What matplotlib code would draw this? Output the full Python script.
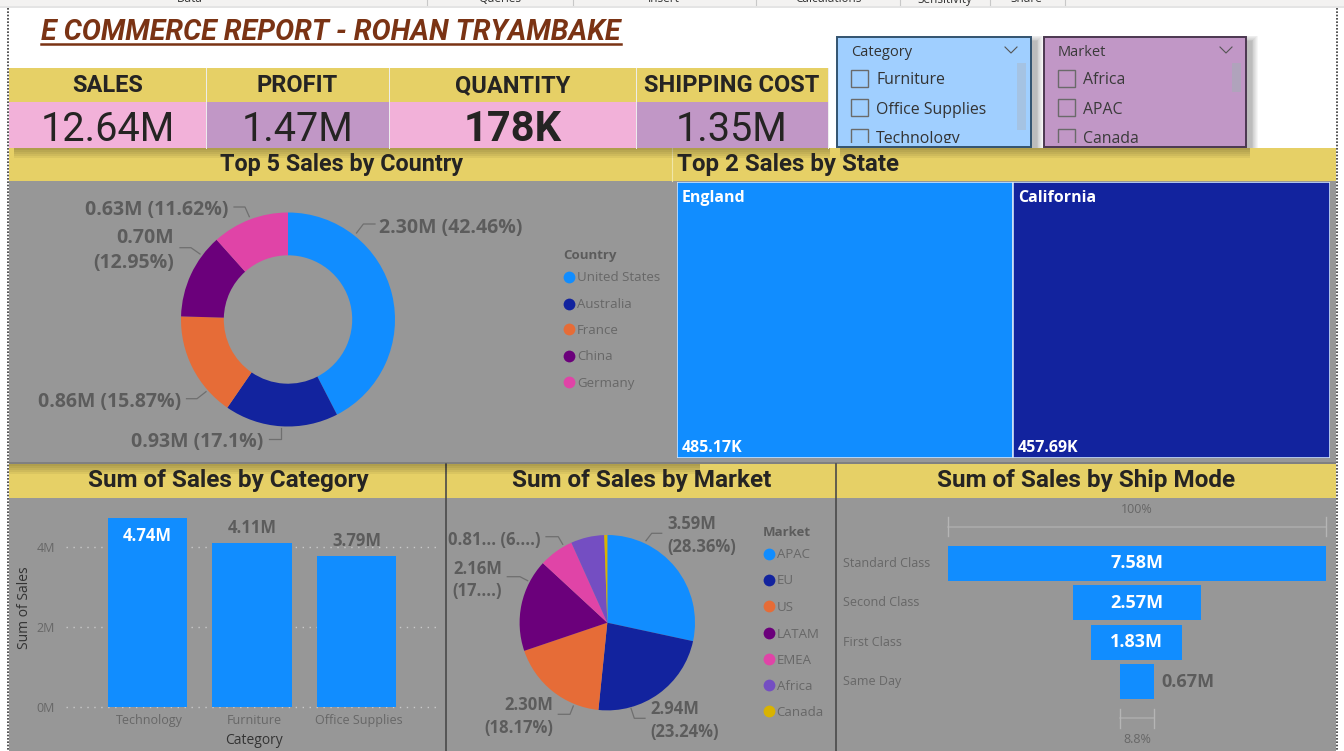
import matplotlib
matplotlib.use("Agg")
import matplotlib.pyplot as plt
from matplotlib.patches import Rectangle
import numpy as np

W, H = 1344, 751

## Data
kpi_names = ["SALES", "PROFIT", "QUANTITY", "SHIPPING COST"]
kpi_values = ["12.64M", "1.47M", "178K", "1.35M"]

country_names = ["United States", "Australia", "France", "China", "Germany"]
country_sales = [2.30, 0.93, 0.86, 0.70, 0.63]
country_labels = ["2.30M (42.46%)", "0.93M (17.1%)", "0.86M (15.87%)", "0.70M\n(12.95%)", "0.63M (11.62%)"]

state_names = ["England", "California"]
state_sales = [485.17, 457.69]
state_labels = ["485.17K", "457.69K"]

category_names = ["Technology", "Furniture", "Office Supplies"]
category_sales = [4.74, 4.11, 3.79]
category_labels = ["4.74M", "4.11M", "3.79M"]

market_names = ["APAC", "EU", "US", "LATAM", "EMEA", "Africa", "Canada"]
market_sales = [3.59, 2.94, 2.30, 2.16, 0.81, 0.78, 0.07]
market_labels = ["3.59M\n(28.36%)", "2.94M\n(23.24%)", "2.30M\n(18.17%)", "2.16M\n(17....)", "0.81... (6....)"]

ship_names = ["Standard Class", "Second Class", "First Class", "Same Day"]
ship_sales = [7.58, 2.57, 1.83, 0.67]
ship_labels = ["7.58M", "2.57M", "1.83M", "0.67M"]
ship_pct_labels = ["100%", "8.8%"]

slicer_category = ["Furniture", "Office Supplies", "Technology"]
slicer_market = ["Africa", "APAC", "Canada"]
ribbon_groups = ["Data", "Queries", "Insert", "Calculations", "Sensitivity", "Share"]

## Colours
BLUE, NAVY, ORANGE, PURPLE, MAGENTA, VIOLET, GOLD = "#118dff", "#12239e", "#e66c37", "#6b007b", "#e044a7", "#744ec2", "#d9b300"
PALETTE = [BLUE, NAVY, ORANGE, PURPLE, MAGENTA, VIOLET, GOLD]
YELLOW, PINK, LILAC, GREY = "#e6d066", "#f2b1d9", "#c197c6", "#979797"
DARK, LABEL, AXIS = "#252423", "#5c5c5c", "#676767"
HEAD = "Roboto"
BODY = "Open Sans"

fig = plt.figure(figsize=(W / 100, H / 100), dpi=100, facecolor="white")


def px_axes(left, top, right, bottom, z=2):
    ax = fig.add_axes([left / W, 1 - bottom / H, (right - left) / W, (bottom - top) / H], zorder=z)
    ax.patch.set_alpha(0)
    return ax


def box(ax, x0, y0, x1, y1, color, **kw):
    r = Rectangle((x0, y0), x1 - x0, y1 - y0, facecolor=color, edgecolor=kw.pop("edge", "none"), **kw)
    ax.add_patch(r)
    return r


def shadow(ax, x0, y0, x1, y1, off=6, steps=8, z=1):
    # soft drop shadow, stacked see-through boxes
    for i in range(steps):
        g = 1.3 * off * (steps - i) / steps
        box(ax, x0 + off - g, y0 + off - g, x1 + off + g, y1 + off + g, "black", alpha=0.035, zorder=z)


# page in pixel coordinates
bg = px_axes(0, 0, W, H, z=0)
bg.set_xlim(0, W)
bg.set_ylim(H, 0)
bg.axis("off")

# ribbon left over at the top of the screenshot
box(bg, 0, 0, W, 6, "#f3f2f1", zorder=1)
box(bg, 0, 6, W, 8, "#e4e4e4", zorder=1)
for name, x in zip(ribbon_groups, [190, 500, 664, 828, 945, 1026]):
    bg.text(x, -1, name, ha="center", va="center", fontsize=8.5, family=BODY, color="#333333", zorder=2)
for x in [427, 573, 756, 900, 990, 1065]:
    bg.plot([x, x], [0, 5], color="#c8c8c8", lw=0.8, zorder=2)

# title
bg.text(41, 32.5, "E COMMERCE REPORT - ROHAN TRYAMBAKE", fontsize=20.6, family=HEAD, weight="bold",
        style="italic", color="#7a3314", ha="left", va="center", zorder=3)
bg.plot([41, 621], [44, 44], color="#7a3314", lw=1.8, zorder=3)

# grey panels and yellow headers
box(bg, 9, 181, 1336, 462, GREY, zorder=2)
box(bg, 9, 498, 1336, H, GREY, zorder=2)
box(bg, 9, 148, 1336, 181, YELLOW, zorder=2)
box(bg, 9, 464, 1336, 498, YELLOW, zorder=2)
box(bg, 9, 462, 1336, 464, "#808080", zorder=2)
for x in [446, 836]:
    bg.plot([x, x], [464, H], color="#4a4a4a", lw=1.2, zorder=3)
bg.plot([672, 672], [148, 181], color="#f0e6a8", lw=0.8, zorder=3)
for i in range(5):
    box(bg, 9, 464, 700, 466 + 2 * i, "black", alpha=0.05, zorder=3)
for i in range(5):
    box(bg, 14, 148, 830, 150 + 2 * i, "black", alpha=0.05, zorder=3)
    box(bg, 840, 148, 1250, 150 + 2 * i, "black", alpha=0.05, zorder=3)

for txt, x, y, size in [("Top 5 Sales by Country", 341, 165, 16.8), ("Sum of Sales by Category", 228, 481, 17.5),
                        ("Sum of Sales by Market", 642, 481, 17.5), ("Sum of Sales by Ship Mode", 1086, 481, 17.5)]:
    bg.text(x, y, txt, fontsize=size, family=HEAD, weight="bold", color=DARK, ha="center", va="center", zorder=4)
bg.text(677, 165, "Top 2 Sales by State", fontsize=17.4, family=HEAD, weight="bold", color=DARK,
        ha="left", va="center", zorder=4)

# KPI cards
edges = [9, 206, 389, 636, 828]
fills = [PINK, LILAC, PINK, LILAC]
for i, (name, val) in enumerate(zip(kpi_names, kpi_values)):
    x0, x1 = edges[i], edges[i + 1]
    box(bg, x0, 68, x1, 102, YELLOW, zorder=2)
    box(bg, x0, 102, x1, 148, fills[i], zorder=2)
    bg.plot([x1, x1], [68, 148], color="#eeeeee", lw=0.7, zorder=3)
    bg.text((x0 + x1) / 2, 85.5, name, fontsize=17, family=HEAD, weight="bold", color=DARK,
            ha="center", va="center", zorder=4)
    bold = name == "QUANTITY"
    bg.text((x0 + x1) / 2, 129.5, val, fontsize=30 if bold else 28.5, family=HEAD, color=DARK, ha="center", va="center",
            weight="bold" if bold else "normal", zorder=4)

# slicers
for x0, x1, fill, edge, title, items, bar_end, txt_col in [
        (837, 1031, "#a0cfff", "#33536f", "Category", slicer_category, 130, "#333333"),
        (1044, 1246, LILAC, "#4b3850", "Market", slicer_market, 92, "#3a3a3a")]:
    shadow(bg, x0, 37, x1, 147, off=5, z=1)
    box(bg, x0, 37, x1, 147, fill, edge=edge, lw=1.4, zorder=5)
    clip = box(bg, x0, 37, x1, 143, "none", zorder=5)
    bg.text(x0 + 14, 53, title, fontsize=10.5, family=BODY, color=txt_col, ha="left", va="center", zorder=6)
    bg.plot([x1 - 26, x1 - 20, x1 - 14], [47, 53, 47], color="#555555", lw=0.8, zorder=6)
    box(bg, x1 - 14, 63, x1 - 5, bar_end, "#a9a9b8" if title == "Market" else "#a8bfd8", alpha=0.7, zorder=6)
    for k, item in enumerate(items):
        yc = 78 + 29.7 * k
        cb = box(bg, x0 + 14, yc - 8.5, x0 + 31, yc + 8.5, "none", edge="#6a6a6a", lw=1, zorder=6)
        cb.set_clip_path(clip)
        t = bg.text(x0 + 39, yc + 2, item, fontsize=11.4, family=BODY, color=txt_col, ha="left", va="center", zorder=6)
        t.set_clip_on(True)
        t.set_clip_path(clip)

# dotted page frame
bg.plot([8, 8], [8, H], color="#333333", lw=1.2, ls=(0, (1, 1)), zorder=6)
bg.plot([1336.5, 1336.5], [8, H], color="#333333", lw=1.2, ls=(0, (1, 1)), zorder=6)

# overlay for legends and leader lines
top = px_axes(0, 0, W, H, z=5)
top.set_xlim(0, W)
top.set_ylim(H, 0)
top.axis("off")


def leader(points):
    xs, ys = zip(*points)
    top.plot(xs, ys, color="#6f6f6f", lw=0.9)


def legend(title, names, x, y_title, ys):
    top.text(x - 6, y_title + 1, title, fontsize=9.5, family=BODY, weight="bold", color=LABEL, ha="left", va="center")
    for k, (name, y) in enumerate(zip(names, ys)):
        top.scatter([x], [y], s=72, color=PALETTE[k], linewidths=0)
        top.text(x + 8, y + 1, name, fontsize=9.5, family=BODY, color=AXIS, ha="left", va="center")


def plabel(x, y, txt, ha, size=12):
    top.text(x, y + 1, txt, fontsize=size, family=BODY, weight="bold", color=LABEL, ha=ha, va="center", linespacing=1.35)


## Donut
cx, cy, rad = 288, 319.5, 107
ax = px_axes(cx - rad, cy - rad, cx + rad, cy + rad)
ax.pie(country_sales, colors=PALETTE[:5], startangle=90, counterclock=False, radius=1,
       wedgeprops=dict(width=0.4, linewidth=0))
ax.set_xlim(-1, 1)
ax.set_ylim(-1, 1)

plabel(379, 227, country_labels[0], "left", 14)
leader([(375, 224), (363.4, 224), (356.5, 233)])
plabel(263, 441, country_labels[1], "right", 14)
leader([(269, 439), (281, 439), (281, 428)])
plabel(181, 401, country_labels[2], "right", 14)
leader([(186.5, 398.7), (197, 398.7), (206, 391.7)])
plabel(174, 249.5, country_labels[3], "right", 14)
leader([(180, 247.7), (191, 247.7), (200, 254)])
plabel(228, 209, country_labels[4], "right", 14)
leader([(234, 207), (245, 207), (249.3, 216.7)])
legend("Country", country_names, 569, 255, [276.7, 304, 329.3, 355.7, 382])

## Treemap
ax = px_axes(677, 182, 1330, 458)
ax.axis("off")
ax.set_xlim(0, sum(state_sales))
ax.set_ylim(0, 1)
left = 0
for k, (name, v, lab) in enumerate(zip(state_names, state_sales, state_labels)):
    ax.barh(0.5, v, height=1, left=left, color=PALETTE[k], edgecolor="#cfe2f7", linewidth=1.2)
    ax.text(left + 5 * sum(state_sales) / 653, 0.943, name, fontsize=11.5, family=BODY, weight="bold",
            color="white", ha="left", va="center")
    ax.text(left + 5 * sum(state_sales) / 653, 0.038, lab, fontsize=11.5, family=BODY, weight="bold",
            color="white", ha="left", va="center")
    left += v

## Bars
ax = px_axes(66, 498, 441, 707.3 + 43.7)
scale = 40.0
ax.set_ylim(-43.7 / scale, (707.3 - 498) / scale)
ax.set_xlim(-81.5 / 104.5, 293.5 / 104.5)
xpos = np.arange(len(category_names))
ax.bar(xpos, category_sales, width=0.756, color=BLUE, zorder=3)
for k in [0, 2, 4]:
    ax.plot([-81.5 / 104.5, 293.5 / 104.5], [k, k], color="#c9c9c9", lw=1, ls=(0, (1, 4)), zorder=2)
    ax.text(-81.5 / 104.5 - 11 / 104.5, k - 0.02, "%dM" % k, fontsize=9, family=BODY, color=AXIS, ha="right", va="center")
for k, (v, lab) in enumerate(zip(category_sales, category_labels)):
    inside = k == 0
    ax.text(k, v - 0.45 if inside else v + 0.37, lab, fontsize=12, family=BODY, weight="bold",
            color="white" if inside else LABEL, ha="center", va="center", zorder=4)
    ax.text(k + 0.02, -0.32, category_names[k], fontsize=9, family=BODY, color=AXIS, ha="center", va="center")
ax.text(1.02, -0.82, "Category", fontsize=10, family=BODY, color="#333333", ha="center", va="center")
ax.text(-81.5 / 104.5 - 41 / 104.5, 2.5, "Sum of Sales", fontsize=10, family=BODY, color="#333333",
        rotation=90, ha="center", va="center")
ax.axis("off")

## Market pie
cx, cy, rad = 607.3, 622.7, 87.7
ax = px_axes(cx - rad, cy - rad, cx + rad, cy + rad)
ax.pie(market_sales, colors=PALETTE, startangle=90, counterclock=False, radius=1, wedgeprops=dict(linewidth=0))
ax.set_xlim(-1, 1)
ax.set_ylim(-1, 1)

plabel(667.7, 534.5, market_labels[0], "left")
leader([(661.7, 533.3), (651.7, 533.3), (646, 540.7)])
plabel(650.7, 719.5, market_labels[1], "left")
leader([(645, 718.3), (634.3, 718.3), (631, 708.3)])
plabel(553.3, 715.5, market_labels[2], "right")
leader([(558.3, 714.3), (570, 714.3), (573.3, 706)])
plabel(502.3, 579, market_labels[3], "right")
leader([(507.3, 576.7), (520, 576.7), (527.7, 580.7)])
plabel(541, 539.3, market_labels[4], "right")
leader([(546, 536.7), (558.3, 536.7), (562.7, 544.3)])
legend("Market", market_names, 768.7, 531.5, [553.7, 580, 606.3, 633, 659, 685, 711])

## Funnel
ax = px_axes(948, 498, 1325.7, H)
half = ship_sales[0] / 2
step = 39.5
ax.set_xlim(-half, half)
ax.set_ylim((H - 563.2) / step, (498 - 563.2) / step)
ax.axis("off")
ypos = np.arange(len(ship_names))
v = np.array(ship_sales)
ax.barh(ypos, v, left=-v / 2, height=0.886, color=BLUE)
per_px = ship_sales[0] / 377.7
for k, lab in enumerate(ship_labels):
    if k < 3:
        ax.text(0, k, lab, fontsize=13, family=BODY, weight="bold", color="white", ha="center", va="center")
    else:
        ax.text(v[k] / 2 + 8 * per_px, k, lab, fontsize=13, family=BODY, weight="bold", color=LABEL, ha="left", va="center")
    ax.text(-half - 105.5 * per_px, k, ship_names[k], fontsize=9, family=BODY, color=AXIS, ha="left", va="center")
for val, yb, yt, pct in [(v[0], -0.924, -1.35, ship_pct_labels[0]), (v[-1], 3.92, 4.47, ship_pct_labels[1])]:
    ax.plot([-val / 2, val / 2], [yb, yb], color="#adadad", lw=1.1, clip_on=False)
    for sx in [-val / 2, val / 2]:
        ax.plot([sx, sx], [yb - 0.24, yb + 0.24], color="#b5b5b5", lw=1, clip_on=False)
    ax.text(0, yt, pct, fontsize=9, family=BODY, color=AXIS, ha="center", va="center")

fig.savefig("out.png", dpi=100, facecolor="white")
